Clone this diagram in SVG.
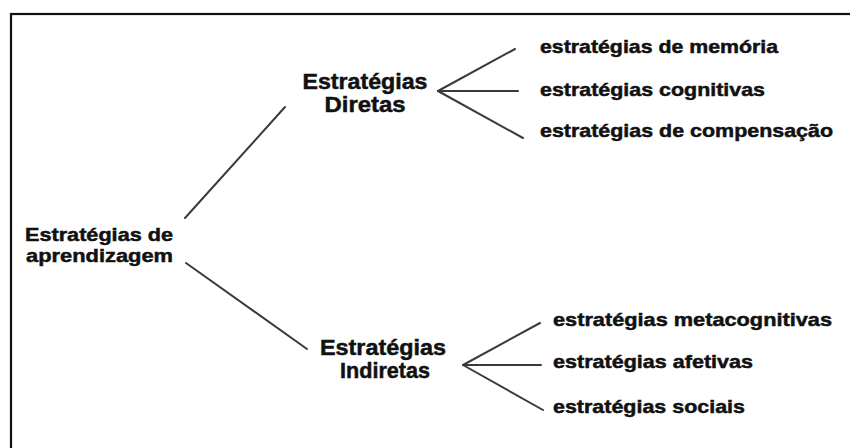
<svg xmlns="http://www.w3.org/2000/svg" width="850" height="448" viewBox="0 0 850 448">
  <style>
    text { font-family: "Liberation Sans", Arial, sans-serif; font-weight: bold; fill: #111; stroke: #111; stroke-width: 0.5; }
    .root { font-size: 19px; }
    .mid { font-size: 22px; text-anchor: middle; }
    .leaf { font-size: 19px; }
    .conn line { stroke: #3a3a3a; stroke-width: 2; stroke-linecap: round; }
  </style>
  <rect x="11" y="14" width="850" height="445" fill="#fff" stroke="#111" stroke-width="2.2"/>
  <g id="connectors" class="conn">
    <line x1="185" y1="218" x2="285" y2="107"/>
    <line x1="186" y1="263" x2="307" y2="349"/>
    <line x1="438" y1="91" x2="515" y2="49"/>
    <line x1="438" y1="91" x2="518" y2="91"/>
    <line x1="438" y1="91" x2="523" y2="138"/>
    <line x1="463" y1="365" x2="540" y2="323"/>
    <line x1="463" y1="365" x2="541" y2="365"/>
    <line x1="463" y1="365" x2="543" y2="410"/>
  </g>
  <g id="root">
    <text class="root" x="25" y="241" textLength="148" lengthAdjust="spacingAndGlyphs">Estratégias de</text>
    <text class="root" x="26" y="262" textLength="147" lengthAdjust="spacingAndGlyphs">aprendizagem</text>
  </g>
  <g id="diretas">
    <text class="mid" x="365" y="89" textLength="125" lengthAdjust="spacingAndGlyphs">Estratégias</text>
    <text class="mid" x="365" y="112" textLength="81" lengthAdjust="spacingAndGlyphs">Diretas</text>
  </g>
  <g id="indiretas">
    <text class="mid" x="383" y="355" textLength="126" lengthAdjust="spacingAndGlyphs">Estratégias</text>
    <text class="mid" x="385" y="378" textLength="90" lengthAdjust="spacingAndGlyphs">Indiretas</text>
  </g>
  <g id="leaf-memoria">
    <text class="leaf" x="540" y="53" textLength="238" lengthAdjust="spacingAndGlyphs">estratégias de memória</text>
  </g>
  <g id="leaf-cognitivas">
    <text class="leaf" x="540" y="96" textLength="225" lengthAdjust="spacingAndGlyphs">estratégias cognitivas</text>
  </g>
  <g id="leaf-compensacao">
    <text class="leaf" x="540" y="137" textLength="293" lengthAdjust="spacingAndGlyphs">estratégias de compensação</text>
  </g>
  <g id="leaf-metacognitivas">
    <text class="leaf" x="553" y="326" textLength="279" lengthAdjust="spacingAndGlyphs">estratégias metacognitivas</text>
  </g>
  <g id="leaf-afetivas">
    <text class="leaf" x="553" y="368" textLength="200" lengthAdjust="spacingAndGlyphs">estratégias afetivas</text>
  </g>
  <g id="leaf-sociais">
    <text class="leaf" x="553" y="413" textLength="192" lengthAdjust="spacingAndGlyphs">estratégias sociais</text>
  </g>
</svg>
